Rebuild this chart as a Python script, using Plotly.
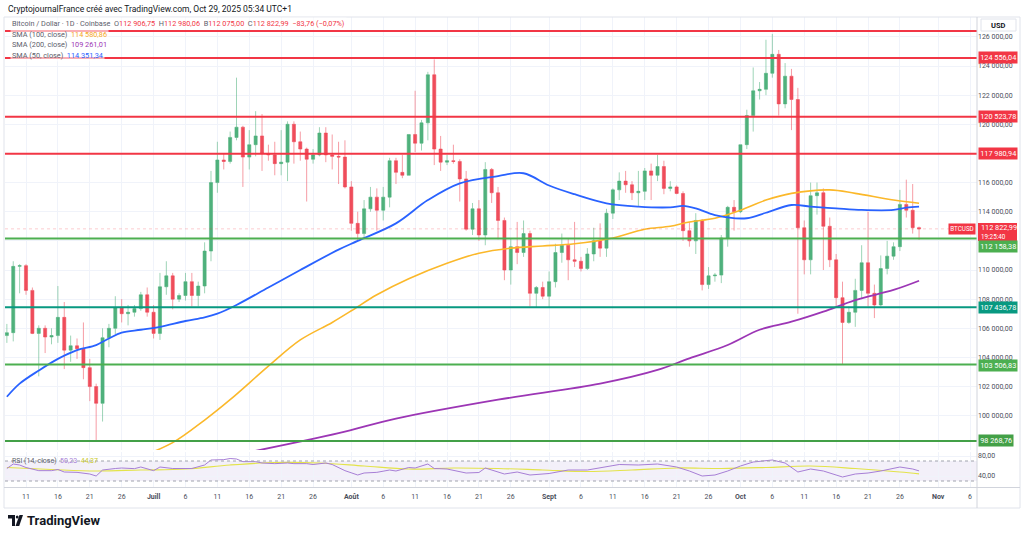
import plotly.graph_objects as go
import pandas as pd

# ---------------- data ----------------
start_date = "2025-06-08"
opens = [105.5,105.7,110.25,110.3,108.6,105.65,106.0,105.4,105.5,106.75,104.5,104.8,104.6,103.3,102.0,100.85,105.35,106.0,107.4,107.0,107.1,107.35,108.3,
         107.1,105.65,108.85,109.6,108.0,108.25,109.2,108.25,108.9,111.3,116.0,117.55,117.45,119.1,119.8,117.75,118.6,119.2,118.0,117.9,117.3,117.4,120.0,118.8,118.3,117.6,117.9,119.4,117.9,117.8,117.75,
         115.7,113.2,112.5,114.2,115.0,114.1,115.0,117.5,116.7,116.5,119.3,118.7,120.1,123.4,118.3,117.4,117.5,117.45,116.25,112.8,114.2,112.4,116.9,115.3,113.4,110.0,111.6,111.2,112.5,108.4,108.8,
         108.2,109.2,111.2,111.7,110.7,110.6,110.1,111.1,112.0,111.5,113.9,115.5,116.1,115.85,115.3,115.4,116.8,116.5,117.1,115.6,115.7,115.25,112.7,112.0,113.4,109.0,109.6,109.65,112.2,114.3,
         114.0,118.6,120.6,122.3,122.4,123.5,124.8,121.4,123.3,121.7,112.9,110.7,115.1,115.3,113.0,110.7,108.1,106.4,107.1,108.6,110.5,108.4,107.6,110.1,110.95,111.6,114.5,114.1,112.907]
highs = [106.3,110.6,110.4,110.4,108.8,106.2,106.2,106.0,108.9,107.8,105.5,105.3,106.4,103.9,102.2,106.0,106.3,108.2,108.0,107.6,107.6,108.5,108.8,
         107.6,109.8,110.6,109.8,108.4,109.8,109.8,109.2,111.9,116.8,118.8,118.0,119.5,123.2,119.9,119.6,120.9,120.7,118.6,118.8,119.6,120.2,120.2,119.5,118.4,118.3,119.8,119.8,119.3,118.8,118.9,
         116.1,114.0,114.8,115.7,115.6,115.7,117.7,117.7,117.9,119.3,122.3,120.3,123.6,124.45,119.2,117.9,118.6,117.6,116.8,114.6,114.8,117.4,117.0,115.7,113.6,112.2,113.3,113.4,112.7,108.9,109.2,
         109.9,111.8,112.5,112.2,113.3,110.9,111.5,112.9,113.2,114.2,115.6,116.7,116.8,116.1,116.8,117.0,117.3,117.9,117.5,116.1,115.8,115.4,113.3,113.9,113.5,110.2,109.8,112.4,114.4,114.8,
         118.6,121.0,123.9,122.9,125.8,126.2,125.1,124.2,123.8,122.5,113.4,116.0,116.0,115.6,113.6,111.1,109.2,107.5,109.4,111.7,114.0,109.0,111.0,112.0,111.9,115.5,116.2,115.9,112.98]
lows = [105.0,105.1,108.4,108.3,105.6,102.7,104.3,104.9,105.0,103.2,103.7,103.9,102.5,101.0,98.27,99.6,104.7,105.6,106.4,106.2,106.8,107.2,106.8,
        105.3,105.2,108.3,107.3,107.8,107.9,107.5,107.5,108.4,110.6,115.3,116.9,117.3,118.9,115.7,116.9,117.8,116.8,117.5,116.5,116.5,116.1,117.3,117.5,114.7,117.3,117.8,117.4,116.9,115.9,115.6,
        112.7,112.0,112.1,114.0,112.7,113.4,114.3,115.9,116.3,116.5,118.1,118.2,118.9,117.2,116.8,117.2,117.3,114.7,112.7,112.4,112.0,111.7,114.6,112.1,109.3,109.0,110.4,110.9,107.5,107.4,108.0,
        107.45,108.8,110.5,109.3,110.2,109.9,110.0,110.6,110.9,110.9,113.5,114.8,115.3,114.8,114.4,114.8,114.8,116.1,115.2,115.4,115.2,112.0,111.6,111.1,108.6,108.7,109.2,109.1,111.6,112.7,
        113.9,118.3,119.5,121.7,122.0,123.2,120.6,121.1,119.6,107.0,109.7,109.7,113.8,110.0,110.2,107.5,103.5,106.3,106.1,108.0,107.5,106.7,107.5,109.7,110.7,111.3,113.6,112.5,112.075]
closes = [105.7,110.25,110.3,108.6,105.65,106.0,105.4,105.5,106.75,104.5,104.8,104.6,103.3,102.0,100.85,105.35,106.0,107.4,107.0,107.1,107.35,108.3,107.1,
          105.65,108.85,109.6,108.0,108.25,109.2,108.25,108.9,111.3,116.0,117.55,117.45,119.1,119.8,117.75,118.6,119.2,118.0,117.9,117.3,117.4,120.0,118.8,118.3,117.6,117.9,119.4,117.9,117.8,117.75,115.7,
          113.2,112.5,114.2,115.0,114.1,115.0,117.5,116.7,116.5,119.3,118.7,120.1,123.4,118.3,117.4,117.5,117.45,116.25,112.8,114.2,112.4,116.9,115.3,113.4,110.0,111.6,111.2,112.5,108.4,108.8,108.2,
          109.2,111.2,111.7,110.7,110.6,110.1,111.1,112.0,111.5,113.9,115.5,116.1,115.85,115.3,115.4,116.8,116.5,117.1,115.6,115.7,115.25,112.7,112.0,113.4,109.0,109.6,109.65,112.2,114.3,114.0,
          118.6,120.6,122.3,122.4,123.5,124.8,121.4,123.3,121.7,112.9,110.7,115.1,115.3,113.0,110.7,108.1,106.4,107.1,108.6,110.5,108.4,107.6,110.1,110.95,111.6,114.5,114.1,112.907,112.823]

sma50_dates = ["2025-06-08","2025-06-10","2025-06-13","2025-06-16","2025-06-19","2025-06-22","2025-06-24","2025-06-26","2025-06-29","2025-07-02",
               "2025-07-06","2025-07-09","2025-07-11","2025-07-14","2025-07-19","2025-07-24","2025-07-30","2025-08-02","2025-08-08","2025-08-13",
               "2025-08-18","2025-08-24","2025-08-28","2025-09-01","2025-09-05","2025-09-10","2025-09-15","2025-09-20","2025-09-22","2025-09-24",
               "2025-09-27","2025-10-02","2025-10-05","2025-10-09","2025-10-12","2025-10-16","2025-10-20","2025-10-25","2025-10-27","2025-10-29"]
sma50_vals = [101.3,102.2,103.1,103.9,104.5,104.85,105.3,105.7,105.9,106.1,106.5,106.75,107.0,107.6,108.8,110.0,111.4,112.0,113.2,114.8,
              115.95,116.45,116.64,115.8,115.2,114.58,114.35,114.3,114.4,114.23,113.77,113.55,113.93,114.46,114.35,114.23,114.12,114.12,114.28,114.35]

sma100_dates = ["2025-06-29","2025-07-04","2025-07-09","2025-07-13","2025-07-19","2025-07-24","2025-07-29","2025-08-01","2025-08-05","2025-08-10",
                "2025-08-16","2025-08-21","2025-08-26","2025-08-31","2025-09-05","2025-09-11","2025-09-16","2025-09-20","2025-09-23","2025-09-27",
                "2025-10-01","2025-10-05","2025-10-09","2025-10-15","2025-10-19","2025-10-25","2025-10-29"]
sma100_vals = [97.2,98.15,99.7,101.1,103.4,105.2,106.4,107.2,108.3,109.4,110.46,111.15,111.5,111.65,111.8,112.2,112.8,113.0,113.3,113.55,
               114.1,114.8,115.26,115.5,115.26,114.8,114.58]

sma200_dates = ["2025-07-16","2025-07-30","2025-08-08","2025-08-24","2025-09-09","2025-09-18","2025-09-23","2025-09-29","2025-10-04","2025-10-09",
                "2025-10-14","2025-10-19","2025-10-25","2025-10-29"]
sma200_vals = [97.5,98.8,99.8,101.1,102.2,103.14,103.94,104.85,105.9,106.45,107.14,107.94,108.63,109.26]

rsi_dates = ["2025-06-08","2025-06-09","2025-06-10","2025-06-11","2025-06-13","2025-06-15","2025-06-16","2025-06-17","2025-06-19","2025-06-21",
             "2025-06-22","2025-06-23","2025-06-25","2025-06-26","2025-06-28","2025-06-29","2025-07-01","2025-07-02","2025-07-04","2025-07-06",
             "2025-07-07","2025-07-09","2025-07-10","2025-07-12","2025-07-13","2025-07-14","2025-07-15","2025-07-17","2025-07-18","2025-07-20",
             "2025-07-22","2025-07-23","2025-07-25","2025-07-26","2025-07-28","2025-07-29","2025-07-31","2025-08-02","2025-08-03","2025-08-05",
             "2025-08-07","2025-08-08","2025-08-10","2025-08-11","2025-08-13","2025-08-14","2025-08-16","2025-08-19","2025-08-21","2025-08-22",
             "2025-08-25","2025-08-27","2025-08-29","2025-09-01","2025-09-04","2025-09-07","2025-09-10","2025-09-12","2025-09-15","2025-09-18",
             "2025-09-21","2025-09-23","2025-09-25","2025-09-27","2025-09-29","2025-10-01","2025-10-03","2025-10-06","2025-10-08","2025-10-10",
             "2025-10-12","2025-10-14","2025-10-17","2025-10-19","2025-10-21","2025-10-23","2025-10-26","2025-10-28","2025-10-29"]
rsi_vals = [55,64,62,57,50.7,50.7,53,48,47.3,44,40,52,55,56,54.7,58,50.7,58,55,56,55,62,72,72.7,75,74,68.7,68.7,66,64.7,66,64.7,64.7,63,66,63,
            50.7,42,46,47.3,52,50,57,56,64,55,54,46,47,56,44,48,42,45,52,52,58,63,62,64,58,50,40,42,50,60,68,72,66,48,54,50,38,44,46,50,58,54,50.23]
rsima_dates = ["2025-06-08","2025-06-15","2025-06-22","2025-06-29","2025-07-06","2025-07-13","2025-07-20","2025-07-27","2025-08-03","2025-08-10",
               "2025-08-17","2025-08-24","2025-08-31","2025-09-07","2025-09-14","2025-09-21","2025-09-28","2025-10-05","2025-10-12","2025-10-19",
               "2025-10-26","2025-10-29"]
rsima_vals = [57,53,50,52,54,62,67,66,60,54,56,55,52,49,52,56,55,57,60,55,48,44.37]

levels_red = [126400, 124556.04, 120523.78, 117980.94]
levels_green = [112158.38, 103506.83, 98268.76]
level_teal = 107436.78
last_price = 112822.99
countdown = "19:25:40"
price_ticks = list(range(100000, 128000, 2000))
hidden_ticks = [118000, 112000]
rsi_ticks = [40, 80]
tick_dates = ["2025-06-11","2025-06-16","2025-06-21","2025-06-26","2025-07-01","2025-07-06","2025-07-11","2025-07-16","2025-07-21","2025-07-26",
              "2025-08-01","2025-08-06","2025-08-11","2025-08-16","2025-08-21","2025-08-26","2025-09-01","2025-09-06","2025-09-11","2025-09-16",
              "2025-09-21","2025-09-26","2025-10-01","2025-10-06","2025-10-11","2025-10-16","2025-10-21","2025-10-26","2025-11-01","2025-11-06"]
tick_text = ["11","16","21","26","<b>Juill</b>","6","11","16","21","26","<b>Août</b>","6","11","16","21","26","<b>Sept</b>","6","11","16",
             "21","26","<b>Oct</b>","6","11","16","21","26","<b>Nov</b>","6"]

# ---------------- geometry helpers ----------------
W, H = 1024, 538
ML, MR, MT, MB = 5, 47, 17, 51
PW, PH = W - ML - MR, H - MT - MB
def px(v): return (v - ML) / PW
def py(v): return (H - MB - v) / PH

K = 1000
dates = pd.date_range(start_date, periods=len(closes), freq="D")
UP, DN = "#4fb17c", "#ef4d5b"
RED, GREEN, TEAL, DKGREEN = "#f23645", "#4caf50", "#089981", "#43a047"
FONT = "Roboto"

def fr(v):
    s = f"{v:,.2f}"
    return s.replace(",", " ").replace(".", ",")

fig = go.Figure()
fig.add_trace(go.Candlestick(
    x=dates, open=[v*K for v in opens], high=[v*K for v in highs], low=[v*K for v in lows], close=[v*K for v in closes],
    increasing=dict(line=dict(color="rgba(79,177,124,0.55)", width=1), fillcolor=UP),
    decreasing=dict(line=dict(color="rgba(239,77,91,0.55)", width=1), fillcolor=DN),
    whiskerwidth=0, showlegend=False, hoverinfo="skip", xaxis="x", yaxis="y"))
fig.add_trace(go.Scatter(x=sma100_dates, y=[v*K for v in sma100_vals], mode="lines", line=dict(color="#fbb82a", width=1.6, shape="spline"), xaxis="x", yaxis="y"))
fig.add_trace(go.Scatter(x=sma200_dates, y=[v*K for v in sma200_vals], mode="lines", line=dict(color="#9c36b5", width=1.8, shape="spline"), xaxis="x", yaxis="y"))
fig.add_trace(go.Scatter(x=sma50_dates, y=[v*K for v in sma50_vals], mode="lines", line=dict(color="#2962ff", width=1.8, shape="spline"), xaxis="x", yaxis="y"))
fig.add_trace(go.Scatter(x=rsima_dates, y=rsima_vals, mode="lines", line=dict(color="#e3e34a", width=1.2, shape="spline"), xaxis="x", yaxis="y2"))
fig.add_trace(go.Scatter(x=rsi_dates, y=rsi_vals, mode="lines", line=dict(color="#a77fd6", width=1), xaxis="x", yaxis="y2"))

shapes = []
shapes.append(dict(type="rect", xref="x domain", yref="y2", x0=0, x1=1, y0=30, y1=70, fillcolor="rgba(126,87,194,0.09)", line=dict(width=0), layer="below"))
for lv in (30, 70):
    shapes.append(dict(type="line", xref="x domain", yref="y2", x0=0, x1=1, y0=lv, y1=lv, line=dict(color="#a0a3ad", width=1, dash="dot")))
shapes.append(dict(type="line", xref="x domain", yref="y", x0=0, x1=1, y0=last_price, y1=last_price, line=dict(color="rgba(242,54,69,0.25)", width=1, dash="dot")))
for lv in levels_red:
    shapes.append(dict(type="line", xref="x domain", yref="y", x0=0, x1=1, y0=lv, y1=lv, line=dict(color=RED, width=2)))
for lv, c in zip(levels_green, [GREEN, GREEN, DKGREEN]):
    shapes.append(dict(type="line", xref="x domain", yref="y", x0=0, x1=1, y0=lv, y1=lv, line=dict(color=c, width=2)))
shapes.append(dict(type="line", xref="x domain", yref="y", x0=0, x1=1, y0=level_teal, y1=level_teal, line=dict(color=TEAL, width=2)))
shapes.append(dict(type="rect", xref="paper", yref="paper", x0=px(4), x1=px(1020), y0=py(508), y1=py(17), line=dict(color="#e0e3eb", width=1)))
shapes.append(dict(type="line", xref="paper", yref="paper", x0=px(977), x1=px(977), y0=py(508), y1=py(17), line=dict(color="#d1d4dc", width=1)))
shapes.append(dict(type="line", xref="paper", yref="paper", x0=px(4), x1=px(1020), y0=py(487.5), y1=py(487.5), line=dict(color="#d1d4dc", width=1)))
shapes.append(dict(type="rect", xref="paper", yref="paper", x0=px(981), x1=px(1016), y0=py(31), y1=py(19), line=dict(color="#e0e3eb", width=1), fillcolor="white"))
# red box behind the last price and countdown
shapes.append(dict(type="rect", xref="paper", yref="paper", x0=px(978), x1=px(1017), y0=py(241), y1=py(223), fillcolor=RED, line=dict(width=0)))
# TradingView logo icon
shapes.append(dict(type="path", xref="paper", yref="paper",
                   path=f"M {px(8)} {py(515)} L {px(15)} {py(515)} L {px(15)} {py(526)} L {px(12)} {py(526)} L {px(12)} {py(518.5)} L {px(8)} {py(518.5)} Z",
                   fillcolor="#131722", line=dict(width=0)))
shapes.append(dict(type="circle", xref="paper", yref="paper", x0=px(15.8), x1=px(18.6), y0=py(518.6), y1=py(515.4), fillcolor="#131722", line=dict(width=0)))
shapes.append(dict(type="path", xref="paper", yref="paper",
                   path=f"M {px(19.5)} {py(515)} L {px(23)} {py(515)} L {px(19.2)} {py(526)} L {px(15.5)} {py(526)} Z",
                   fillcolor="#131722", line=dict(width=0)))

ann = []
def tag(yv, text, color, yshift=0):
    ann.append(dict(xref="paper", yref="y", x=px(978), y=yv, xanchor="left", yanchor="middle", text=text, showarrow=False,
                    bgcolor=color, font=dict(color="white", size=7.3, family=FONT), borderpad=1.2, yshift=yshift))
for lv in levels_red[1:]:
    tag(lv, fr(lv), RED)
tag(levels_green[0], fr(levels_green[0]), GREEN, yshift=-8)
tag(level_teal, fr(level_teal), TEAL)
tag(levels_green[1], fr(levels_green[1]), GREEN, yshift=-1)
tag(levels_green[2], fr(levels_green[2]), DKGREEN)
ann.append(dict(xref="paper", yref="y", x=px(979), y=last_price, xanchor="left", yanchor="middle", yshift=1,
                text=fr(last_price), showarrow=False, font=dict(color="white", size=7.3, family=FONT)))
ann.append(dict(xref="paper", yref="y", x=px(979), y=last_price, xanchor="left", yanchor="middle", yshift=-8,
                text=countdown, showarrow=False, font=dict(color="white", size=6.3, family=FONT)))
ann.append(dict(xref="paper", yref="y", x=px(976), y=last_price, xanchor="right", yanchor="middle", text="BTCUSD",
                showarrow=False, bgcolor=RED, font=dict(color="white", size=6.3, family=FONT), borderpad=1.2))
ann.append(dict(xref="paper", yref="paper", x=px(998.5), y=py(25), xanchor="center", yanchor="middle", text="<b>USD</b>",
                showarrow=False, font=dict(color="#131722", size=7.5, family=FONT)))
ann.append(dict(xref="paper", yref="paper", x=px(6), y=py(9), xanchor="left", yanchor="middle",
                text="CryptojournalFrance créé avec TradingView.com, Oct 29, 2025 05:34 UTC+1", showarrow=False,
                font=dict(color="#131722", size=8.5, family=FONT)))
g = "#5d606b"; r = RED
leg0 = (f"<span style='color:{g}'>Bitcoin / Dollar · 1D · Coinbase  O</span><span style='color:{r}'>112 906,75</span>"
        f"<span style='color:{g}'>  H</span><span style='color:{r}'>112 980,06</span><span style='color:{g}'>  B</span>"
        f"<span style='color:{r}'>112 075,00</span><span style='color:{g}'>  C</span><span style='color:{r}'>112 822,99  −83,76 (−0,07%)</span>")
for yy, txt in [(24, leg0),
                (34.5, f"<span style='color:{g}'>SMA (100, close)</span>  <span style='color:#f5a623'>114 580,86</span>"),
                (45, f"<span style='color:{g}'>SMA (200, close)</span>  <span style='color:#9c36b5'>109 261,01</span>"),
                (55.5, f"<span style='color:{g}'>SMA (50, close)</span>  <span style='color:#2962ff'>114 351,34</span>")]:
    ann.append(dict(xref="paper", yref="paper", x=px(10), y=py(yy), xanchor="left", yanchor="middle", text=txt,
                    showarrow=False, font=dict(size=7.3, family=FONT), bgcolor="rgba(255,255,255,0.6)"))
ann.append(dict(xref="paper", yref="paper", x=px(10), y=py(461), xanchor="left", yanchor="middle",
                text=f"<span style='color:{g}'>RSI (14, close)</span>  <span style='color:#a77fd6'>50,23</span>  <span style='color:#c9c92a'>44,37</span>",
                showarrow=False, font=dict(size=7, family=FONT)))
ann.append(dict(xref="paper", yref="paper", x=px(25), y=py(520.5), xanchor="left", yanchor="middle", text="<b>TradingView</b>",
                showarrow=False, font=dict(color="#131722", size=13, family=FONT)))

fig.update_layout(
    width=W, height=H, margin=dict(l=ML, r=MR, t=MT, b=MB),
    paper_bgcolor="white", plot_bgcolor="white", showlegend=False,
    font=dict(family=FONT, color="#131722"),
    shapes=shapes, annotations=ann,
    xaxis=dict(type="date", range=["2025-06-07 17:00", "2025-11-07 02:00"], anchor="y2",
               tickvals=tick_dates, ticktext=tick_text, tickfont=dict(size=7, color="#4a4e5a"), ticklabelstandoff=4,
               showgrid=True, gridcolor="#f0f3fa", gridwidth=1, rangeslider=dict(visible=False),
               ticks="", zeroline=False, showline=False),
    yaxis=dict(domain=[py(450), 1], range=[97647, 127363], side="right", anchor="x",
               tickvals=price_ticks, ticktext=["" if v in hidden_ticks else fr(v) for v in price_ticks],
               tickfont=dict(size=7, color="#4a4e5a"),
               showgrid=True, gridcolor="#f0f3fa", zeroline=False, ticks="", showline=False),
    yaxis2=dict(domain=[0, py(452)], range=[18, 88], side="right", anchor="x",
                tickvals=rsi_ticks, ticktext=["40,00", "80,00"], tickfont=dict(size=7, color="#4a4e5a"),
                showgrid=True, gridcolor="#f0f3fa", zeroline=False, ticks=""),
)
fig.write_html("out.html")
